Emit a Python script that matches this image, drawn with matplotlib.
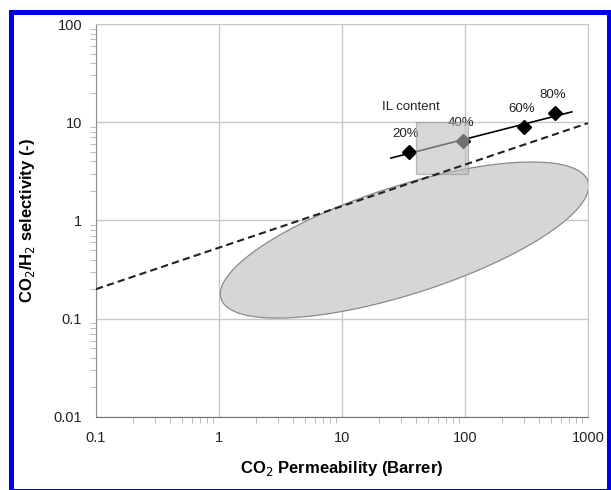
import numpy as np
import matplotlib
matplotlib.use("Agg")
import matplotlib.pyplot as plt
from matplotlib.patches import Rectangle

plt.rcParams['font.family'] = ['Liberation Sans', 'DejaVu Sans']

# membranes with increasing IL content
il_labels = ["20%", "40%", "60%", "80%"]
perm = [35, 97, 302, 540]
selec = [5.0, 6.4, 9.0, 12.3]
fit_range = [25, 740]

# upper bound (dashed)
bound_x = [0.1, 1000]
bound_y = [0.2, 9.8]

# region of polymer membranes: tips of the major axis + half width (decades)
ell_left = (1.04, 0.16)
ell_right = (1000, 2.5)
ell_half_minor = (-0.132, 0.524)

# IL content box
box_x = [40, 105]
box_y = [3.0, 10.0]

fig = plt.figure(figsize=(6.11, 4.90), dpi=100)
ax = fig.add_axes([0.1571, 0.149, 0.8052, 0.802])

# ellipse built in log space
lx = np.log10([ell_left[0], ell_right[0]])
ly = np.log10([ell_left[1], ell_right[1]])
cx, cy = lx.mean(), ly.mean()
ax_x, ax_y = (lx[1] - lx[0]) / 2, (ly[1] - ly[0]) / 2
t = np.linspace(0, 2 * np.pi, 300)
ex = cx + np.cos(t) * ax_x + np.sin(t) * ell_half_minor[0]
ey = cy + np.cos(t) * ax_y + np.sin(t) * ell_half_minor[1]
ax.fill(10 ** ex, 10 ** ey, facecolor="#d6d6d6", edgecolor="#8a8a8a", lw=0.9, zorder=2)

# trend line + points
c = np.polyfit(np.log10(perm), np.log10(selec), 1)
fx = np.array(fit_range)
ax.plot(fx, 10 ** np.polyval(c, np.log10(fx)), color="black", lw=1.2, zorder=3)
ax.plot(perm, selec, "D", color="black", ms=7, zorder=4)
for lab, x, y in zip(il_labels, perm, selec):
    ax.annotate(lab, (x, y), xytext=(-2, 13), textcoords="offset points",
                ha="center", va="center", fontsize=9.5, color="#222222", zorder=4)
ax.text(36, 14.3, "IL content", ha="center", va="center", fontsize=9.5, color="#222222")

ax.add_patch(Rectangle((box_x[0], box_y[0]), box_x[1] - box_x[0], box_y[1] - box_y[0],
                       facecolor="#bdbdbd", edgecolor="#909090", lw=0.9, alpha=0.6, zorder=5))

ax.plot(bound_x, bound_y, color="#222222", lw=1.5, ls=(0, (3.5, 2)), zorder=6)

ax.set_xscale("log")
ax.set_yscale("log")
ax.set_xlim(0.1, 1000)
ax.set_ylim(0.01, 100)
ax.set_xticks([0.1, 1, 10, 100, 1000])
ax.set_xticklabels(["0.1", "1", "10", "100", "1000"])
ax.set_yticks([0.01, 0.1, 1, 10, 100])
ax.set_yticklabels(["0.01", "0.1", "1", "10", "100"])
ax.grid(True, which="major", color="#c8c8c8", lw=1)
ax.set_axisbelow(True)
ax.tick_params(which="major", length=0, labelsize=10.5, labelcolor="#222222", pad=10)
ax.tick_params(which="minor", length=4, color="#b0b0b0", direction="out")
for s in ["top", "right"]:
    ax.spines[s].set_color("#c8c8c8")
ax.spines["left"].set_color("#909090")
ax.spines["bottom"].set_color("#707070")

ax.set_xlabel("CO$_2$ Permeability (Barrer)", fontsize=12, fontweight="bold", labelpad=10)
ax.set_ylabel("CO$_2$/H$_2$ selectivity (-)", fontsize=12, fontweight="bold", labelpad=12)

# blue frame round the figure
W, H = 611, 490
fig.patches.append(Rectangle((10.5 / W, 1 - 491 / H), 598 / W, 478.5 / H,
                             transform=fig.transFigure, fill=False,
                             edgecolor="#0000ee", lw=3.6))

fig.savefig("out.png", dpi=100)
